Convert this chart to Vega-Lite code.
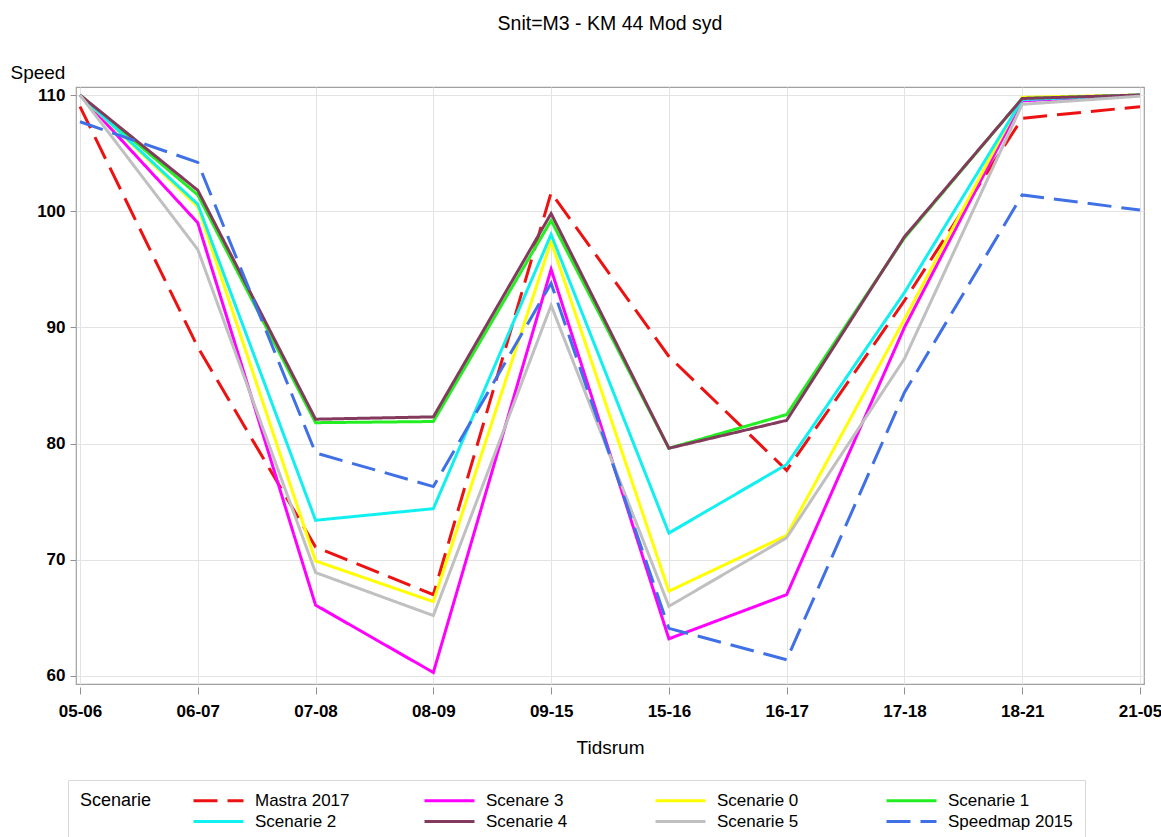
{
  "$schema": "https://vega.github.io/schema/vega-lite/v6.json",
  "autosize": {"type": "none"},
  "width": 1068,
  "height": 597,
  "padding": {"left": 76, "top": 87, "right": 17, "bottom": 153},
  "background": "white",
  "title": {
    "text": "Snit=M3 - KM 44 Mod syd",
    "font": "Liberation Sans",
    "fontSize": 19.5,
    "fontWeight": "normal",
    "color": "#000000",
    "anchor": "middle",
    "frame": "group",
    "baseline": "middle",
    "offset": 20
  },
  "config": {
    "view": {"stroke": "#a0a0a0", "strokeWidth": 1.2},
    "axis": {
      "labelFont": "Liberation Sans",
      "labelFontWeight": "bold",
      "labelFontSize": 17,
      "labelColor": "#000000",
      "titleFont": "Liberation Sans",
      "titleFontWeight": "normal",
      "titleFontSize": 19,
      "titleColor": "#000000",
      "gridColor": "#e3e3e3",
      "gridWidth": 1,
      "tickColor": "#909090",
      "domain": false
    },
    "legend": {
      "direction": "horizontal",
      "columns": 4,
      "gridAlign": "all",
      "columnPadding": 38,
      "rowPadding": 3,
      "padding": 12,
      "strokeColor": "#d8d8d8",
      "titleOrient": "left",
      "titleAnchor": "start",
      "titleBaseline": "top",
      "titlePadding": 58,
      "titleFont": "Liberation Sans",
      "titleFontSize": 18,
      "titleFontWeight": "normal",
      "titleColor": "#000000",
      "labelFont": "Liberation Sans",
      "labelFontSize": 17,
      "labelColor": "#000000",
      "labelOffset": 28,
      "symbolType": "M-5,0H5",
      "symbolSize": 100,
      "symbolStrokeWidth": 3
    }
  },
  "data": {
    "values": [
      {"t": "05-06", "s": "Mastra 2017", "v": 109.0},
      {"t": "06-07", "s": "Mastra 2017", "v": 88.3},
      {"t": "07-08", "s": "Mastra 2017", "v": 71.1},
      {"t": "08-09", "s": "Mastra 2017", "v": 67.0},
      {"t": "09-15", "s": "Mastra 2017", "v": 101.6},
      {"t": "15-16", "s": "Mastra 2017", "v": 87.5},
      {"t": "16-17", "s": "Mastra 2017", "v": 77.7},
      {"t": "17-18", "s": "Mastra 2017", "v": 92.3},
      {"t": "18-21", "s": "Mastra 2017", "v": 108.0},
      {"t": "21-05", "s": "Mastra 2017", "v": 109.0},
      {"t": "05-06", "s": "Scenare 3", "v": 110.0},
      {"t": "06-07", "s": "Scenare 3", "v": 99.0},
      {"t": "07-08", "s": "Scenare 3", "v": 66.1},
      {"t": "08-09", "s": "Scenare 3", "v": 60.3},
      {"t": "09-15", "s": "Scenare 3", "v": 95.0},
      {"t": "15-16", "s": "Scenare 3", "v": 63.2},
      {"t": "16-17", "s": "Scenare 3", "v": 67.0},
      {"t": "17-18", "s": "Scenare 3", "v": 90.0},
      {"t": "18-21", "s": "Scenare 3", "v": 109.5},
      {"t": "21-05", "s": "Scenare 3", "v": 110.0},
      {"t": "05-06", "s": "Scenarie 0", "v": 110.0},
      {"t": "06-07", "s": "Scenarie 0", "v": 100.4},
      {"t": "07-08", "s": "Scenarie 0", "v": 69.9},
      {"t": "08-09", "s": "Scenarie 0", "v": 66.4},
      {"t": "09-15", "s": "Scenarie 0", "v": 97.4},
      {"t": "15-16", "s": "Scenarie 0", "v": 67.3},
      {"t": "16-17", "s": "Scenarie 0", "v": 72.1},
      {"t": "17-18", "s": "Scenarie 0", "v": 90.7},
      {"t": "18-21", "s": "Scenarie 0", "v": 109.8},
      {"t": "21-05", "s": "Scenarie 0", "v": 110.0},
      {"t": "05-06", "s": "Scenarie 1", "v": 110.0},
      {"t": "06-07", "s": "Scenarie 1", "v": 101.4},
      {"t": "07-08", "s": "Scenarie 1", "v": 81.8},
      {"t": "08-09", "s": "Scenarie 1", "v": 81.9},
      {"t": "09-15", "s": "Scenarie 1", "v": 99.2},
      {"t": "15-16", "s": "Scenarie 1", "v": 79.6},
      {"t": "16-17", "s": "Scenarie 1", "v": 82.5},
      {"t": "17-18", "s": "Scenarie 1", "v": 97.7},
      {"t": "18-21", "s": "Scenarie 1", "v": 109.7},
      {"t": "21-05", "s": "Scenarie 1", "v": 110.0},
      {"t": "05-06", "s": "Scenarie 2", "v": 110.0},
      {"t": "06-07", "s": "Scenarie 2", "v": 100.6},
      {"t": "07-08", "s": "Scenarie 2", "v": 73.4},
      {"t": "08-09", "s": "Scenarie 2", "v": 74.4},
      {"t": "09-15", "s": "Scenarie 2", "v": 98.0},
      {"t": "15-16", "s": "Scenarie 2", "v": 72.3},
      {"t": "16-17", "s": "Scenarie 2", "v": 78.2},
      {"t": "17-18", "s": "Scenarie 2", "v": 93.0},
      {"t": "18-21", "s": "Scenarie 2", "v": 109.6},
      {"t": "21-05", "s": "Scenarie 2", "v": 110.0},
      {"t": "05-06", "s": "Scenarie 4", "v": 110.0},
      {"t": "06-07", "s": "Scenarie 4", "v": 101.8},
      {"t": "07-08", "s": "Scenarie 4", "v": 82.1},
      {"t": "08-09", "s": "Scenarie 4", "v": 82.3},
      {"t": "09-15", "s": "Scenarie 4", "v": 99.8},
      {"t": "15-16", "s": "Scenarie 4", "v": 79.6},
      {"t": "16-17", "s": "Scenarie 4", "v": 82.0},
      {"t": "17-18", "s": "Scenarie 4", "v": 97.8},
      {"t": "18-21", "s": "Scenarie 4", "v": 109.7},
      {"t": "21-05", "s": "Scenarie 4", "v": 110.0},
      {"t": "05-06", "s": "Scenarie 5", "v": 110.0},
      {"t": "06-07", "s": "Scenarie 5", "v": 96.7},
      {"t": "07-08", "s": "Scenarie 5", "v": 68.9},
      {"t": "08-09", "s": "Scenarie 5", "v": 65.2},
      {"t": "09-15", "s": "Scenarie 5", "v": 91.9},
      {"t": "15-16", "s": "Scenarie 5", "v": 66.0},
      {"t": "16-17", "s": "Scenarie 5", "v": 71.9},
      {"t": "17-18", "s": "Scenarie 5", "v": 87.3},
      {"t": "18-21", "s": "Scenarie 5", "v": 109.2},
      {"t": "21-05", "s": "Scenarie 5", "v": 109.9},
      {"t": "05-06", "s": "Speedmap 2015", "v": 107.7},
      {"t": "06-07", "s": "Speedmap 2015", "v": 104.2},
      {"t": "07-08", "s": "Speedmap 2015", "v": 79.2},
      {"t": "08-09", "s": "Speedmap 2015", "v": 76.3},
      {"t": "09-15", "s": "Speedmap 2015", "v": 93.8},
      {"t": "15-16", "s": "Speedmap 2015", "v": 64.1},
      {"t": "16-17", "s": "Speedmap 2015", "v": 61.4},
      {"t": "17-18", "s": "Speedmap 2015", "v": 84.4},
      {"t": "18-21", "s": "Speedmap 2015", "v": 101.4},
      {"t": "21-05", "s": "Speedmap 2015", "v": 100.1}
    ]
  },
  "mark": {"type": "line", "strokeWidth": 3, "strokeJoin": "miter"},
  "encoding": {
    "x": {
      "field": "t",
      "type": "ordinal",
      "sort": null,
      "scale": {"type": "point", "padding": 0.034},
      "axis": {
        "title": "Tidsrum",
        "labelAngle": 0,
        "grid": true,
        "offset": 3,
        "tickSize": 7,
        "labelPadding": 9,
        "titleBaseline": "middle",
        "titleY": 60
      }
    },
    "y": {
      "field": "v",
      "type": "quantitative",
      "scale": {"domain": [59.31, 110.69], "nice": false, "zero": false},
      "axis": {
        "title": "Speed",
        "values": [60, 70, 80, 90, 100, 110],
        "tickSize": 6,
        "labelPadding": 5,
        "titleAngle": 0,
        "titleAlign": "left",
        "titleBaseline": "middle",
        "titleX": -66,
        "titleY": -15
      }
    },
    "color": {
      "field": "s",
      "type": "nominal",
      "scale": {
        "domain": ["Mastra 2017", "Scenare 3", "Scenarie 0", "Scenarie 1", "Scenarie 2", "Scenarie 4", "Scenarie 5", "Speedmap 2015"],
        "range": ["#EE1111", "#FF00FF", "#FFFF00", "#22EE22", "#11F0F0", "#833A5C", "#C0C0C0", "#4070E6"]
      },
      "legend": {
        "title": "Scenarie",
        "orient": "none",
        "direction": "horizontal",
        "legendX": -8,
        "legendY": 693
      }
    },
    "strokeDash": {
      "field": "s",
      "type": "nominal",
      "scale": {
        "domain": ["Mastra 2017", "Scenare 3", "Scenarie 0", "Scenarie 1", "Scenarie 2", "Scenarie 4", "Scenarie 5", "Speedmap 2015"],
        "range": [[24, 10], [1, 0], [1, 0], [1, 0], [1, 0], [1, 0], [1, 0], [24, 10]]
      },
      "legend": {
        "title": "Scenarie",
        "orient": "none",
        "direction": "horizontal",
        "legendX": -8,
        "legendY": 693
      }
    }
  }
}
